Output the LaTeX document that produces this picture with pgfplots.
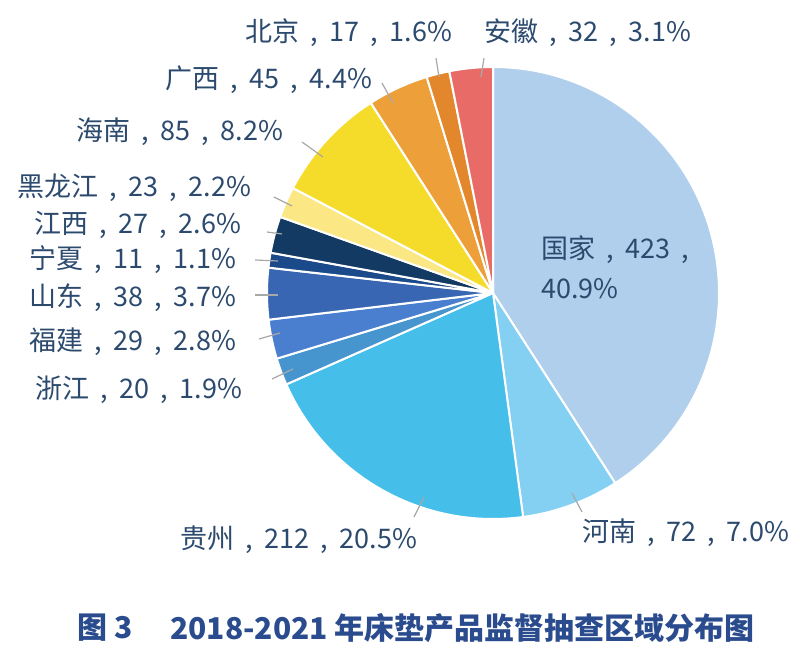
\documentclass[border=0pt]{standalone}
\usepackage{pgfplots}
\pgfplotsset{compat=1.18}
\usepackage{pgfplotstable}
\usepackage{fontspec}
\setmainfont{Noto Sans CJK SC}
\definecolor{txt}{HTML}{2C4A6E}
\definecolor{ttl}{HTML}{2A4B8D}
\definecolor{lead}{HTML}{A8A8A8}
\definecolor{c0}{HTML}{B0CFEC}
\definecolor{c1}{HTML}{84D0F3}
\definecolor{c2}{HTML}{45BEEA}
\definecolor{c3}{HTML}{4795CF}
\definecolor{c4}{HTML}{4A7FD0}
\definecolor{c5}{HTML}{3966B2}
\definecolor{c6}{HTML}{1B4A8A}
\definecolor{c7}{HTML}{133A63}
\definecolor{c8}{HTML}{FBE783}
\definecolor{c9}{HTML}{F5DC2A}
\definecolor{c10}{HTML}{EDA03A}
\definecolor{c11}{HTML}{E3872C}
\definecolor{c12}{HTML}{E96B68}
\newcommand\sep{\hspace{0.42em},\hspace{0.42em}}
% values, clockwise from 12 o'clock: 国家 河南 贵州 浙江 福建 山东 宁夏 江西 黑龙江 海南 广西 北京 安徽
\pgfplotstableread{
value
423
72
212
20
29
38
11
27
23
85
45
17
32
}\piedata
\begin{document}
\begin{tikzpicture}[
  lab/.style={anchor=west, inner sep=0pt, text=txt, font=\fontsize{13.5pt}{20pt}\selectfont},
  ld/.style={lead, line width=0.6pt},
]
\pgfplotstablegetrowsof{\piedata}
\pgfmathtruncatemacro\nrows{\pgfplotsretval-1}
\gdef\total{0}
\foreach \i in {0,...,\nrows}{%
  \pgfplotstablegetelem{\i}{value}\of\piedata
  \pgfmathsetmacro\tmpT{\total+\pgfplotsretval}%
  \xdef\total{\tmpT}%
}
\gdef\cum{0}
\foreach \i in {0,...,\nrows}{%
  \pgfplotstablegetelem{\i}{value}\of\piedata
  \pgfmathsetmacro\sA{90-360*(\cum/\total)}%
  \pgfmathsetmacro\cc{\cum+\pgfplotsretval}%
  \pgfmathsetmacro\eA{90-360*(\cc/\total)}%
  \expandafter\xdef\csname sa\i\endcsname{\sA}%
  \expandafter\xdef\csname ea\i\endcsname{\eA}%
  \xdef\cum{\cc}%
}
\begin{axis}[
  x=0.5pt, y=0.5pt,
  xmin=0, xmax=800, ymin=0, ymax=667,
  y dir=reverse,
  hide axis, clip=false,
]
\path (axis cs:0,0) rectangle (axis cs:800,667);
\pgfplotsinvokeforeach{0,...,12}{%
  \edef\temp{\noexpand\fill[fill=c#1, draw=white, line width=1pt, line join=round]
    (axis cs:493,293) -- ++(\csname sa#1\endcsname:113pt)
    arc[start angle=\csname sa#1\endcsname, end angle=\csname ea#1\endcsname, radius=113pt] -- cycle;}%
  \temp
}
% leader lines
\draw[ld] (axis cs:436,58) -- (axis cs:439,77);
\draw[ld] (axis cs:484,58) -- (axis cs:481,77);
\draw[ld] (axis cs:382,83) -- (axis cs:393,103);
\draw[ld] (axis cs:302,142) -- (axis cs:323,157);
\draw[ld] (axis cs:274,197) -- (axis cs:292,206);
\draw[ld] (axis cs:267,232) -- (axis cs:282,234);
\draw[ld] (axis cs:255,260) -- (axis cs:278,261);
\draw[ld] (axis cs:255,295) -- (axis cs:278,295);
\draw[ld] (axis cs:259,339) -- (axis cs:280,333);
\draw[ld] (axis cs:272,379) -- (axis cs:293,369);
\draw[ld] (axis cs:414,517) -- (axis cs:424,497);
\draw[ld] (axis cs:572,493) -- (axis cs:582,512);
% labels
\node[lab] at (axis cs:245,33) {北京\sep17\sep1.6\%};
\node[lab] at (axis cs:484,33) {安徽\sep32\sep3.1\%};
\node[lab] at (axis cs:165,80) {广西\sep45\sep4.4\%};
\node[lab] at (axis cs:76,132) {海南\sep85\sep8.2\%};
\node[lab] at (axis cs:17,188) {黑龙江\sep23\sep2.2\%};
\node[lab] at (axis cs:34,225) {江西\sep27\sep2.6\%};
\node[lab] at (axis cs:29,260) {宁夏\sep11\sep1.1\%};
\node[lab] at (axis cs:29,298) {山东\sep38\sep3.7\%};
\node[lab] at (axis cs:29,342) {福建\sep29\sep2.8\%};
\node[lab] at (axis cs:35,390) {浙江\sep20\sep1.9\%};
\node[lab] at (axis cs:180,540) {贵州\sep212\sep20.5\%};
\node[lab] at (axis cs:582,533) {河南\sep72\sep7.0\%};
\node[lab, align=left] at (axis cs:541,267) {国家\sep423\sep\\40.9\%};
% caption
\node[anchor=west, inner sep=0pt, text=ttl, font=\fontsize{15pt}{18pt}\selectfont\bfseries] at (axis cs:77,628) {图 3};
\node[anchor=west, inner sep=0pt, text=ttl, font=\fontsize{15pt}{18pt}\selectfont\bfseries] at (axis cs:170,628) {2018-2021 年床垫产品监督抽查区域分布图};
\end{axis}
\end{tikzpicture}
\end{document}
